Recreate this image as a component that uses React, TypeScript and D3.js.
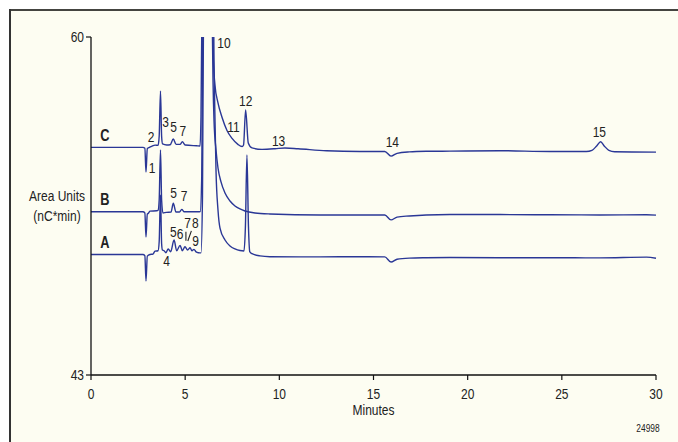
import React from 'react';
import * as d3 from 'd3';

// [minutes, area units]
const traceC: [number, number][] = [
  [0, 54.45], [2.76, 54.45], [2.86, 54.4], [2.92, 53.21], [2.99, 54.4], [3.04, 54.42],
  [3.22, 54.5], [3.4, 54.56], [3.56, 54.55], [3.62, 55.0], [3.69, 57.28], [3.75, 55.0],
  [3.8, 54.62], [4.02, 54.57], [4.2, 54.58], [4.37, 54.87], [4.52, 54.6], [4.73, 54.6],
  [4.85, 54.73], [5.0, 54.57], [5.61, 54.53], [5.79, 54.52], [5.84, 56], [5.9, 62],
  [6.2, 66], [6.45, 62], [6.5, 58.84], [6.58, 57.6], [6.74, 56.7], [6.96, 55.95],
  [7.22, 55.3], [7.49, 54.9], [7.8, 54.6], [8.02, 54.49], [8.1, 54.57], [8.21, 56.33],
  [8.35, 54.67], [8.55, 54.42], [9.08, 54.35], [9.77, 54.38], [10.3, 54.42], [11.0, 54.38],
  [12.5, 54.28], [14.28, 54.24], [15.6, 54.24], [15.93, 54.01], [16.25, 54.15], [16.9, 54.22],
  [17.8, 54.25], [19.06, 54.26], [21.72, 54.28], [24.37, 54.24], [26.3, 54.24], [26.6, 54.3],
  [26.85, 54.52], [27.06, 54.73], [27.25, 54.52], [27.5, 54.3], [27.8, 54.23], [30, 54.21],
];

const traceB: [number, number][] = [
  [0, 51.21], [2.76, 51.21], [2.86, 51.15], [2.92, 49.94], [2.99, 51.1], [3.04, 51.13],
  [3.13, 51.24], [3.49, 51.26], [3.56, 51.28], [3.62, 51.8], [3.69, 54.32], [3.75, 51.8],
  [3.82, 51.15], [4.0, 51.18], [4.25, 51.19], [4.37, 51.64], [4.51, 51.2], [4.7, 51.2],
  [4.82, 51.33], [4.95, 51.21], [5.7, 51.21], [5.8, 51.22], [5.88, 53], [5.95, 62],
  [6.2, 66], [6.42, 62], [6.478, 57.84], [6.531, 55.83], [6.637, 54.32], [6.743, 53.41],
  [6.903, 52.71], [7.115, 52.15], [7.381, 51.75], [7.646, 51.5], [7.912, 51.35], [8.177, 51.25],
  [8.708, 51.15], [9.504, 51.1], [12.16, 51.05], [14.28, 51.05], [15.6, 51.05], [15.93, 50.8],
  [16.25, 50.94], [16.9, 51.0], [17.8, 51.05], [19.06, 51.07], [21.72, 51.07], [24.37, 51.06],
  [27.0, 51.05], [29.5, 51.06], [30, 51.04],
];

const traceA: [number, number][] = [
  [0, 49.06], [2.76, 49.06], [2.86, 49.0], [2.92, 47.73], [2.99, 48.98], [3.13, 49.06],
  [3.29, 49.08], [3.4, 49.23], [3.56, 49.25], [3.62, 49.7], [3.69, 52.05], [3.75, 49.6],
  [3.79, 49.29], [3.88, 49.25], [3.98, 49.15], [4.1, 49.34], [4.23, 49.2], [4.41, 49.79],
  [4.55, 49.25], [4.73, 49.52], [4.85, 49.25], [4.99, 49.45], [5.13, 49.29], [5.26, 49.4],
  [5.36, 49.25], [5.47, 49.32], [5.58, 49.19], [5.7, 49.15], [5.84, 49.14], [5.92, 52],
  [5.98, 62], [6.2, 66], [6.5, 62], [6.531, 58.84], [6.584, 55.83], [6.637, 53.31],
  [6.743, 51.3], [6.85, 50.39], [7.115, 49.79], [7.381, 49.49], [7.646, 49.34], [7.912, 49.26],
  [8.124, 49.24], [8.2, 50.5], [8.28, 54.07], [8.36, 50.5], [8.43, 49.2], [8.55, 49.1],
  [8.97, 48.99], [9.5, 48.95], [12.16, 48.94], [14.28, 48.95], [15.6, 48.94], [15.93, 48.68],
  [16.25, 48.82], [16.9, 48.88], [17.8, 48.9], [19.06, 48.91], [21.7, 48.9], [24.37, 48.9],
  [27.0, 48.89], [29.5, 48.93], [30, 48.87],
];

const xTicks = [0, 5, 10, 15, 20, 25, 30];
const yTicks = [43, 60];

const traceNames = ['C', 'B', 'A'];
const traceNameAnchors: [number, number][] = [[0.74, 55.04], [0.74, 51.83], [0.74, 49.69]];

// peak labels: [text, minutes, area units]
const peakLabels: [string, number, number][] = [
  ['1', 3.25, 53.41], ['2', 3.19, 54.95], ['3', 3.96, 55.7], ['5', 4.38, 55.47], ['7', 4.88, 55.27],
  ['10', 7.06, 59.72], ['11', 7.56, 55.45], ['12', 8.21, 56.8], ['13', 9.96, 54.77],
  ['14', 16.0, 54.7], ['15', 26.99, 55.24],
  ['5', 4.39, 52.14], ['7', 4.94, 52.0],
  ['4', 4.02, 48.73], ['5', 4.37, 50.21], ['6', 4.73, 50.07], ['7', 5.13, 50.63],
  ['8', 5.54, 50.66], ['9', 5.56, 49.75],
];

// leader strokes near peaks 7 and 8 of trace A: [t1, v1, t2, v2]
const leaders: [number, number, number, number][] = [
  [5.04, 50.2, 5.04, 49.75],
  [5.14, 49.74, 5.33, 50.25],
];

const FONT = "'Liberation Sans', Arial, sans-serif";
const LINE = '#2a3796';

function Label(props: { x: number; y: number; children: React.ReactNode; size?: number; anchor?: string; bold?: boolean; sx?: number }) {
  const { x, y, children, size = 15, anchor = 'middle', bold = false, sx = 0.8 } = props;
  return (
    <text
      transform={`translate(${x},${y}) scale(${sx},1)`}
      x={0}
      y={0}
      textAnchor={anchor as any}
      dominantBaseline="central"
      fontFamily={FONT}
      fontSize={size}
      fontWeight={bold ? 'bold' : 'normal'}
      fill="#222"
    >
      {children}
    </text>
  );
}

export default function App() {
  const W = 678, H = 442;
  const x = d3.scaleLinear().domain([0, 30]).range([91, 656]);
  const y = d3.scaleLinear().domain([43, 60]).range([375, 37]);
  const line = d3.line<[number, number]>().x(d => x(d[0])).y(d => y(d[1])).curve(d3.curveMonotoneX);
  const traces = [traceC, traceB, traceA];
  return (
    <svg width={W} height={H} style={{ position: 'absolute', left: 0, top: 0, display: 'block' }}>
      <defs>
        <clipPath id="plotclip">
          <rect x={x(0)} y={y(60)} width={x(30) - x(0) + 4} height={y(43) - y(60)} />
        </clipPath>
      </defs>
      <rect x={0} y={0} width={W} height={H} fill="#ffffff" />
      <rect x={10} y={10} width={W - 10} height={H - 10} fill="#fdfdf2" />
      <line x1={9} x2={W} y1={10} y2={10} stroke="#444440" strokeWidth={2} />
      <line x1={10} x2={10} y1={9} y2={H} stroke="#333" strokeWidth={2} />

      <g clipPath="url(#plotclip)">
        {traces.map((tr, i) => (
          <path key={i} d={line(tr) || ''} fill="none" stroke={LINE} strokeWidth={1.4} strokeLinejoin="round" />
        ))}
      </g>

      {/* axes */}
      <line x1={x(0)} x2={x(0)} y1={y(60)} y2={y(43)} stroke="#111" strokeWidth={1.3} />
      <line x1={x(0)} x2={x(30)} y1={y(43)} y2={y(43)} stroke="#111" strokeWidth={1.3} />
      {yTicks.map(t => (
        <g key={'y' + t}>
          <line x1={x(0) - 5} x2={x(0)} y1={y(t)} y2={y(t)} stroke="#111" strokeWidth={1.2} />
          <Label x={x(0) - 7} y={y(t)} anchor="end">{t}</Label>
        </g>
      ))}
      {xTicks.map(t => (
        <g key={'x' + t}>
          <line x1={x(t)} x2={x(t)} y1={y(43)} y2={y(43) + 5} stroke="#111" strokeWidth={1.2} />
          <Label x={x(t)} y={y(43) + 19}>{t}</Label>
        </g>
      ))}
      <Label x={(x(0) + x(30)) / 2} y={410}>Minutes</Label>
      <Label x={57} y={196}>Area Units</Label>
      <Label x={57} y={216}>(nC*min)</Label>
      <Label x={648} y={428} size={10.5}>24998</Label>

      {traceNames.map((n, i) => (
        <Label key={n} x={x(traceNameAnchors[i][0])} y={y(traceNameAnchors[i][1])} bold size={16}>{n}</Label>
      ))}
      {peakLabels.map(([s, t, v], i) => (
        <Label key={i} x={x(t)} y={y(v)}>{s}</Label>
      ))}
      {leaders.map(([t1, v1, t2, v2], i) => (
        <line key={i} x1={x(t1)} y1={y(v1)} x2={x(t2)} y2={y(v2)} stroke="#222" strokeWidth={1.1} />
      ))}
    </svg>
  );
}
